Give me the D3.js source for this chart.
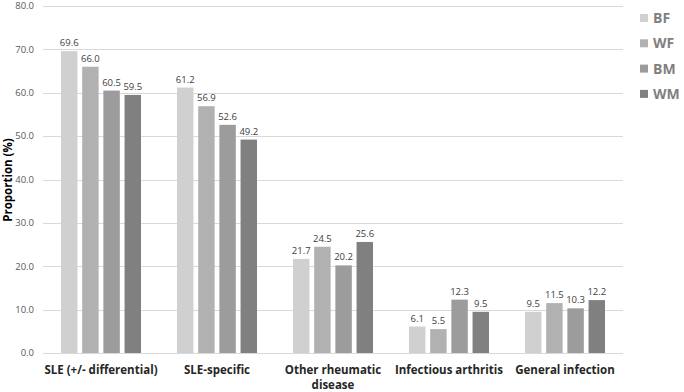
<!DOCTYPE html>
<html><head><meta charset="utf-8">
<script src="https://cdn.jsdelivr.net/npm/d3@7"></script>
<style>body{margin:0;background:#fff}svg{display:block}</style>
</head><body><svg id="c" width="684" height="392"></svg>
<script>
const categories = ["SLE (+/- differential)", "SLE-specific", "Other rheumatic disease", "Infectious arthritis", "General infection"];
const categoryLines = [["SLE (+/- differential)"], ["SLE-specific"], ["Other rheumatic", "disease"], ["Infectious arthritis"], ["General infection"]];
const seriesNames = ["BF", "WF", "BM", "WM"];
const BF = [69.6, 61.2, 21.7, 6.1, 9.5];
const WF = [66.0, 56.9, 24.5, 5.5, 11.5];
const BM = [60.5, 52.6, 20.2, 12.3, 10.3];
const WM = [59.5, 49.2, 25.6, 9.5, 12.2];
const yTicks = [0, 10, 20, 30, 40, 50, 60, 70, 80];
const colors = ["#d0d0d0", "#b1b1b1", "#9c9c9c", "#808080"];

const series = [BF, WF, BM, WM];
const svg = d3.select("#c");
const font = "'Open Sans', sans-serif";
const x = d3.scaleBand().domain(categories).range([43, 623]).padding(0);
const xi = d3.scaleBand().domain(seriesNames).range([-40, 40]).paddingInner(0.224).paddingOuter(0);
const y = d3.scaleLinear().domain([0, 80]).range([353, 6]);

// gridlines
svg.append("g").selectAll("line").data(yTicks).join("line")
  .attr("x1", 43).attr("x2", 623)
  .attr("y1", d => Math.round(y(d)) + 0.5).attr("y2", d => Math.round(y(d)) + 0.5)
  .attr("stroke", "#d9d9d9").attr("stroke-width", 1);

// y tick labels
svg.append("g").selectAll("text").data(yTicks).join("text")
  .attr("x", 34).attr("y", d => y(d)).attr("dy", "0.35em")
  .attr("text-anchor", "end").attr("font-family", font).attr("font-size", 9.5)
  .attr("fill", "#595959").text(d => d.toFixed(1));

// bars
const data = [];
categories.forEach((c, i) => seriesNames.forEach((s, j) => data.push({c, s, j, v: series[j][i]})));
const cx = c => x(c) + x.bandwidth() / 2;
svg.append("g").selectAll("rect").data(data).join("rect")
  .attr("x", d => cx(d.c) + xi(d.s)).attr("width", xi.bandwidth())
  .attr("y", d => y(d.v)).attr("height", d => y(0) - y(d.v))
  .attr("fill", d => colors[d.j]);

// value labels
svg.append("g").selectAll("text").data(data).join("text")
  .attr("x", d => cx(d.c) + xi(d.s) + xi.bandwidth() / 2).attr("y", d => y(d.v) - 5)
  .attr("text-anchor", "middle").attr("font-family", font).attr("font-size", 9.5)
  .attr("fill", "#404040").text(d => d.v.toFixed(1));

// category labels
const cl = svg.append("g").selectAll("text").data(categories).join("text")
  .attr("x", d => cx(d)).attr("y", 374)
  .attr("text-anchor", "middle").attr("font-family", font).attr("font-size", 11.5)
  .attr("font-weight", "bold").attr("fill", "#262626");
cl.each(function(d, i) {
  d3.select(this).selectAll("tspan").data(categoryLines[i]).join("tspan")
    .attr("x", cx(d)).attr("dy", (t, k) => k === 0 ? 0 : 15).text(t => t);
});

// y title
svg.append("text").attr("transform", "translate(12,180) rotate(-90)")
  .attr("text-anchor", "middle").attr("font-family", font).attr("font-size", 11.5)
  .attr("font-weight", "bold").attr("fill", "#000").text("Proportion (%)");

// legend
const lg = svg.append("g").selectAll("g").data(seriesNames).join("g")
  .attr("transform", (d, i) => `translate(640,${18 + i * 25.3})`);
lg.append("rect").attr("x", 0).attr("y", -4).attr("width", 8).attr("height", 8)
  .attr("fill", (d, i) => colors[i]);
lg.append("text").attr("x", 13).attr("y", 0).attr("dy", "0.36em")
  .attr("font-family", font).attr("font-size", 14).attr("font-weight", "bold")
  .attr("fill", "#7f7f7f").text(d => d);
</script></body></html>
